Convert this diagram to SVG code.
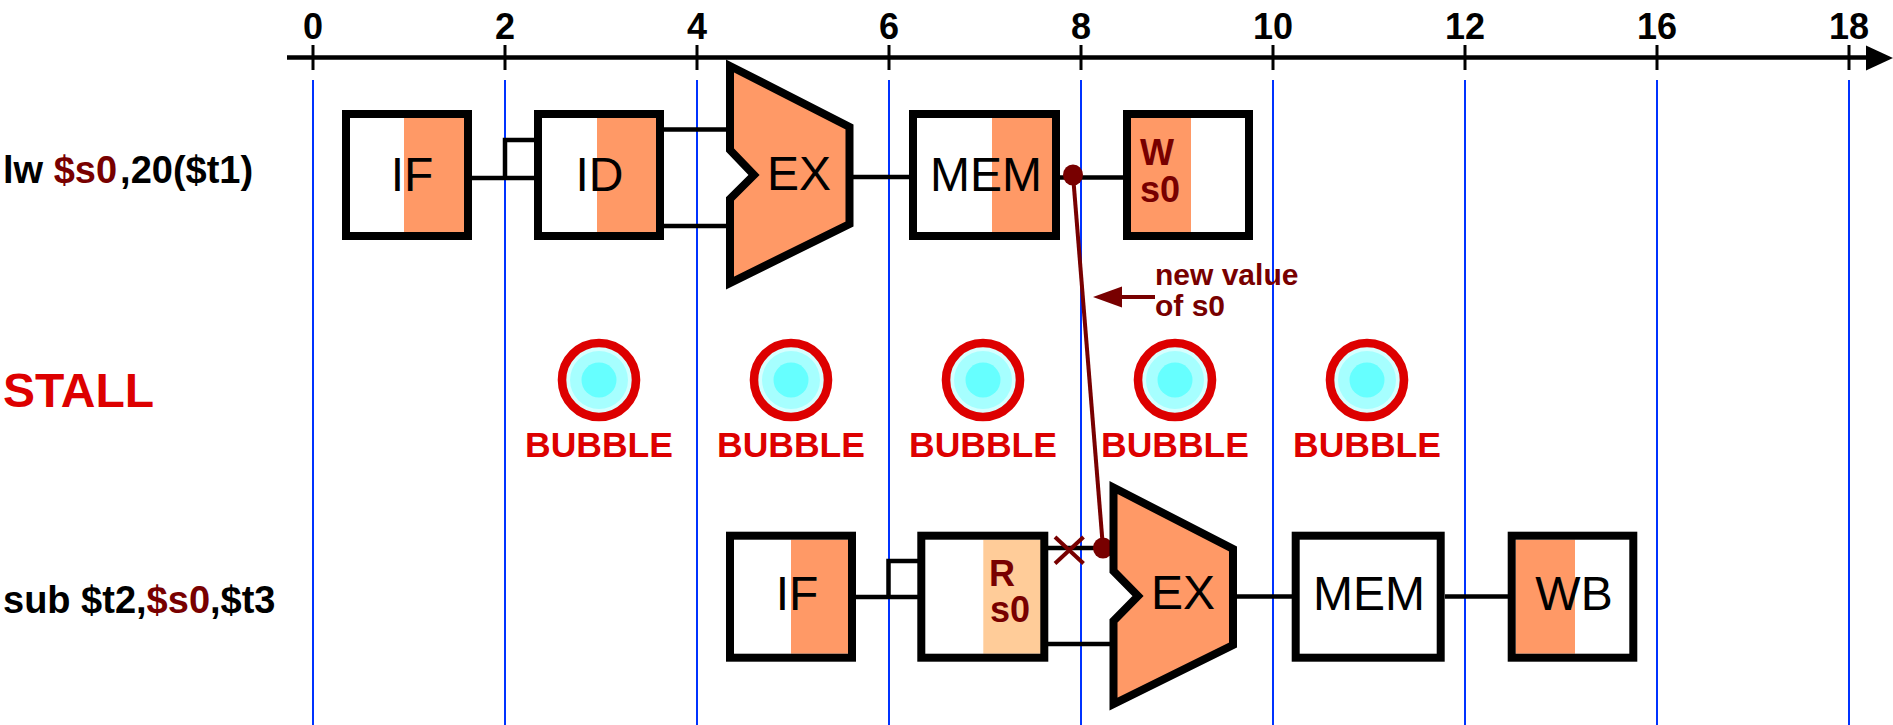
<svg xmlns="http://www.w3.org/2000/svg" xmlns:xlink="http://www.w3.org/1999/xlink" width="1893" height="725" viewBox="0 0 1893 725">
<style>
  text { font-family: "Liberation Sans", Arial, sans-serif; }
  .tick { font-size: 36px; font-weight: bold; fill: #000; text-anchor: middle; }
  .grid { stroke: #0033FF; stroke-width: 2; }
  .tk { stroke: #000; stroke-width: 3; }
  .box { fill: none; stroke: #000; stroke-width: 8; }
  .bg { fill: #FFFFFF; }
  .or { fill: #FF9966; }
  .lor { fill: #FFCC99; }
  .lbl { font-size: 48px; fill: #000; text-anchor: middle; }
  .reg { font-size: 36px; font-weight: bold; fill: #780000; }
  .alu { fill: #FF9966; stroke: #000; stroke-width: 8; stroke-linejoin: miter; }
  .wire { stroke: #000; stroke-width: 4.5; fill: none; }
  .fwd { stroke: #780000; stroke-width: 4; fill: none; }
  .instr { font-size: 38px; font-weight: bold; fill: #000; }
  .dr { fill: #780000; }
  .bub { font-size: 35.5px; font-weight: bold; fill: #DD0000; text-anchor: middle; }
</style>
<defs>
  <g id="bubbleShape">
    <circle r="33" fill="#D6FFFF"/>
    <circle r="29" fill="#A6FFFF"/>
    <circle r="17.5" fill="#66FFFF"/>
    <circle r="37" fill="none" stroke="#DD0000" stroke-width="8.6"/>
  </g>
</defs>
<rect width="1893" height="725" fill="#FFFFFF"/>

<g id="grid">
  <line class="grid" x1="313" y1="80" x2="313" y2="725"/>
  <line class="grid" x1="505" y1="80" x2="505" y2="725"/>
  <line class="grid" x1="697" y1="80" x2="697" y2="725"/>
  <line class="grid" x1="889" y1="80" x2="889" y2="725"/>
  <line class="grid" x1="1081" y1="80" x2="1081" y2="725"/>
  <line class="grid" x1="1273" y1="80" x2="1273" y2="725"/>
  <line class="grid" x1="1465" y1="80" x2="1465" y2="725"/>
  <line class="grid" x1="1657" y1="80" x2="1657" y2="725"/>
  <line class="grid" x1="1849" y1="80" x2="1849" y2="725"/>
</g>

<g id="axis">
  <line x1="287" y1="57.5" x2="1870" y2="57.5" stroke="#000" stroke-width="4.5"/>
  <polygon points="1866,45.5 1893,58 1866,70.5" fill="#000"/>
  <line class="tk" x1="313" y1="45" x2="313" y2="70"/>
  <line class="tk" x1="505" y1="45" x2="505" y2="70"/>
  <line class="tk" x1="697" y1="45" x2="697" y2="70"/>
  <line class="tk" x1="889" y1="45" x2="889" y2="70"/>
  <line class="tk" x1="1081" y1="45" x2="1081" y2="70"/>
  <line class="tk" x1="1273" y1="45" x2="1273" y2="70"/>
  <line class="tk" x1="1465" y1="45" x2="1465" y2="70"/>
  <line class="tk" x1="1657" y1="45" x2="1657" y2="70"/>
  <line class="tk" x1="1849" y1="45" x2="1849" y2="70"/>
  <text class="tick" x="313" y="39">0</text>
  <text class="tick" x="505" y="39">2</text>
  <text class="tick" x="697" y="39">4</text>
  <text class="tick" x="889" y="39">6</text>
  <text class="tick" x="1081" y="39">8</text>
  <text class="tick" x="1273" y="39">10</text>
  <text class="tick" x="1465" y="39">12</text>
  <text class="tick" x="1657" y="39">16</text>
  <text class="tick" x="1849" y="39">18</text>
</g>

<g id="labels">
  <text class="instr" x="3" y="183">lw <tspan fill="#780000">$s0</tspan><tspan dx="3">,20($t1)</tspan></text>
  <text x="3" y="407" font-size="48" font-weight="bold" fill="#DD0000">STALL</text>
  <text class="instr" x="3" y="613">sub $t2,<tspan fill="#780000">$s0</tspan>,$t3</text>
</g>

<g id="connectors">
  <!-- lw row -->
  <line class="wire" x1="471" y1="178" x2="542" y2="178"/>
  <polyline class="wire" points="505,178 505,140 542,140"/>
  <line class="wire" x1="664" y1="129.5" x2="734" y2="129.5"/>
  <line class="wire" x1="664" y1="226" x2="734" y2="226"/>
  <line class="wire" x1="849" y1="177" x2="915" y2="177"/>
  <line class="wire" x1="1060" y1="177.5" x2="1131" y2="177.5"/>
  <!-- sub row -->
  <line class="wire" x1="856" y1="597" x2="927" y2="597"/>
  <polyline class="wire" points="888.5,597 888.5,561 927,561"/>
  <line class="wire" x1="1047" y1="548" x2="1118" y2="548"/>
  <line class="wire" x1="1047" y1="644" x2="1118" y2="644"/>
  <line class="wire" x1="1233" y1="596.5" x2="1300" y2="596.5"/>
  <line class="wire" x1="1445" y1="596.5" x2="1516" y2="596.5"/>
  <!-- forwarding -->
  <line class="fwd" x1="1073" y1="175" x2="1103" y2="548"/>
  <ellipse class="dr" cx="1073" cy="175" rx="10" ry="10.5"/>
  <ellipse class="dr" cx="1103" cy="548" rx="10" ry="10.5"/>
  <line class="fwd" x1="1055" y1="537" x2="1083.5" y2="563.5" stroke-width="4.5"/>
  <line class="fwd" x1="1083.5" y1="537" x2="1055" y2="563.5" stroke-width="4.5"/>
  <line class="fwd" x1="1120" y1="297" x2="1155" y2="297" stroke-width="3.5"/>
  <polygon class="dr" points="1093,297 1122,286.5 1122,307.5"/>
</g>

<g id="note">
  <text x="1155" y="285" font-size="30" font-weight="bold" fill="#780000">new value</text>
  <text x="1155" y="315.5" font-size="30" font-weight="bold" fill="#780000">of s0</text>
</g>

<!-- lw stages -->
<g id="lw-IF">
  <rect class="bg" x="346" y="114" width="122" height="122"/>
  <rect class="or" x="404" y="118" width="60" height="114"/>
  <rect class="box" x="346" y="114" width="122" height="122"/>
  <text class="lbl" x="412" y="190.5">IF</text>
</g>
<g id="lw-ID">
  <rect class="bg" x="538" y="114" width="122" height="122"/>
  <rect class="or" x="597" y="118" width="59" height="114"/>
  <rect class="box" x="538" y="114" width="122" height="122"/>
  <text class="lbl" x="599.5" y="190.5">ID</text>
</g>
<g id="lw-EX">
  <polygon class="alu" points="730,66 849.5,127 849.5,224 730,283 730,199 754,175 730,150"/>
  <text class="lbl" x="799" y="190" font-size="47">EX</text>
</g>
<g id="lw-MEM">
  <rect class="bg" x="913" y="114" width="143" height="122"/>
  <rect class="or" x="992" y="118" width="64" height="114"/>
  <rect class="box" x="913" y="114" width="143" height="122"/>
  <text class="lbl" x="986" y="190.5">MEM</text>
</g>
<g id="lw-WB">
  <rect class="bg" x="1127" y="114" width="122" height="122"/>
  <rect class="or" x="1131" y="118" width="60" height="114"/>
  <rect class="box" x="1127" y="114" width="122" height="122"/>
  <text class="reg" x="1140" y="165">W</text>
  <text class="reg" x="1140" y="201.5">s0</text>
</g>

<!-- bubbles -->
<g id="bubble1"><use xlink:href="#bubbleShape" x="599" y="380"/><text class="bub" x="599" y="457">BUBBLE</text></g>
<g id="bubble2"><use xlink:href="#bubbleShape" x="791" y="380"/><text class="bub" x="791" y="457">BUBBLE</text></g>
<g id="bubble3"><use xlink:href="#bubbleShape" x="983" y="380"/><text class="bub" x="983" y="457">BUBBLE</text></g>
<g id="bubble4"><use xlink:href="#bubbleShape" x="1175" y="380"/><text class="bub" x="1175" y="457">BUBBLE</text></g>
<g id="bubble5"><use xlink:href="#bubbleShape" x="1367" y="380"/><text class="bub" x="1367" y="457">BUBBLE</text></g>

<!-- sub stages -->
<g id="sub-IF">
  <rect class="bg" x="730" y="535.7" width="122" height="122"/>
  <rect class="or" x="791" y="539.7" width="61" height="114"/>
  <rect class="box" x="730" y="535.7" width="122" height="122"/>
  <text class="lbl" x="797" y="610">IF</text>
</g>
<g id="sub-ID">
  <rect class="bg" x="921.3" y="535.7" width="123" height="122"/>
  <rect class="lor" x="983.3" y="539.7" width="61" height="114"/>
  <rect class="box" x="921.3" y="535.7" width="123" height="122"/>
  <text class="reg" x="989" y="586">R</text>
  <text class="reg" x="990" y="621.7">s0</text>
</g>
<g id="sub-EX">
  <polygon class="alu" points="1113.5,487.5 1233,549 1233,645 1113.5,704 1113.5,621 1138,596 1113.5,571"/>
  <text class="lbl" x="1183" y="609" font-size="47">EX</text>
</g>
<g id="sub-MEM">
  <rect class="bg" x="1295.7" y="535.7" width="145" height="122"/>
  <rect class="box" x="1295.7" y="535.7" width="145" height="122"/>
  <text class="lbl" x="1369" y="610">MEM</text>
</g>
<g id="sub-WB">
  <rect class="bg" x="1511.7" y="535.7" width="121.6" height="122"/>
  <rect class="or" x="1515.7" y="539.7" width="59.3" height="114"/>
  <rect class="box" x="1511.7" y="535.7" width="121.6" height="122"/>
  <text class="lbl" x="1574" y="610">WB</text>
</g>
</svg>
